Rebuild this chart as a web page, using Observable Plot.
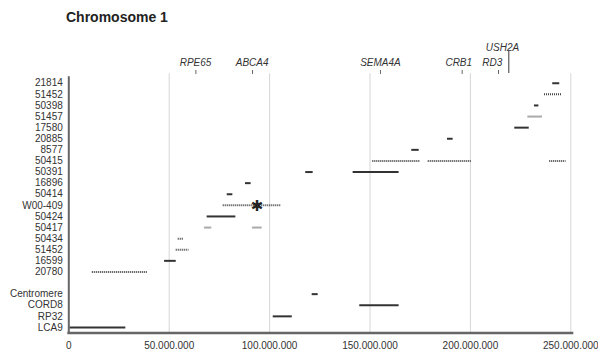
<!DOCTYPE html>
<html>
<head>
<meta charset="utf-8">
<script src="https://cdn.jsdelivr.net/npm/d3@7"></script>
<script src="https://cdn.jsdelivr.net/npm/@observablehq/plot@0.6"></script>
<style>
  html, body { margin: 0; padding: 0; background: #fff; }
  #title { font: bold 14px "Liberation Sans", Arial, sans-serif; height: 34px; line-height: 34px; padding-left: 66px; color: #222; }
  #chart svg { display: block; }
</style>
</head>
<body>
<div id="title">Chromosome 1</div>
<div id="chart"></div>
<script>
// Row labels, top to bottom ("" = empty spacer row)
const rows = ["21814","51452","50398","51457","17580","20885","8577","50415","50391","16896","50414","W00-409","50424","50417","50434","51452","16599","20780","","Centromere","CORD8","RP32","LCA9"];

// Segments (positions in Mb on chromosome 1)
const segRow   = [0, 1, 2, 3, 4, 5, 6, 7, 7, 7, 8, 8, 9, 10, 11, 12, 13, 13, 14, 15, 16, 17, 19, 20, 21, 22];
const segStart = [241.0, 236.9, 231.9, 228.6, 222.1, 188.6, 170.8, 151.4, 179.0, 239.5, 118.0, 141.6, 88.0, 78.9, 76.9, 68.9, 67.6, 91.5, 54.5, 53.5, 47.7, 11.7, 121.2, 144.9, 101.8, 0.5];
const segEnd   = [244.5, 245.7, 234.1, 235.9, 229.3, 191.4, 174.5, 174.8, 200.4, 247.7, 121.7, 164.5, 90.8, 81.7, 105.9, 83.2, 71.2, 96.3, 57.3, 59.8, 53.5, 39.5, 124.2, 164.5, 111.3, 28.4];
const segKind  = ["solid","dotted","solid","gray","solid","solid","solid","dotted","dotted","dotted","solid","solid","solid","solid","dotted","solid","gray","gray","dotted","dotted","solid","dotted","solid","solid","solid","solid"];

// Asterisk marker
const starRow = [11];
const starPos = [93.8];

// Gene annotations along the top
const genes    = ["RPE65","ABCA4","SEMA4A","CRB1","RD3","USH2A"];
const genePos  = [63.3, 91.5, 155.2, 195.9, 214.0, 219.1];
const geneLabelPos = [63.1, 91.3, 155.2, 194.2, 210.9, 216.0];
const geneLong = [false, false, false, false, false, true];

// X axis ticks (bp)
const xTicks = [0, 50e6, 100e6, 150e6, 200e6, 250e6];
const gridTicks = [50e6, 100e6, 150e6, 200e6, 250e6];

const MB = 1e6;
const segs = segRow.map((r, i) => ({row: r, start: segStart[i] * MB, end: segEnd[i] * MB, kind: segKind[i]}));
const stars = starRow.map((r, i) => ({row: r, pos: starPos[i] * MB}));
const geneData = genes.map((g, i) => ({gene: g, pos: genePos[i] * MB, lpos: geneLabelPos[i] * MB, long: geneLong[i]}));
const rowTicks = rows.map((r, i) => i).filter(i => rows[i] !== "");
const fmt = d => d3.format(",")(d).replace(/,/g, ".");

const font = "'Liberation Sans', Arial, sans-serif";
const chart = Plot.plot({
  width: 598,
  height: 319,
  marginLeft: 68.3,
  marginRight: 27.7,
  marginTop: 43.2,
  marginBottom: 20.5,
  style: {fontFamily: font, fontSize: "10px", color: "#333", background: "#fff"},
  x: {domain: [0, 250e6], ticks: xTicks, tickFormat: fmt, tickSize: 0, tickPadding: 9, label: null},
  y: {domain: [-0.5, rows.length - 0.5], reverse: true, ticks: rowTicks, tickFormat: i => rows[i], tickSize: 0, tickPadding: 6, label: null},
  marks: [
    Plot.ruleX(gridTicks, {stroke: "#d6d6d6", strokeWidth: 1, insetTop: -4}),
    // gene ticks and labels
    Plot.ruleX(geneData.filter(d => !d.long), {x: "pos", stroke: "#666", strokeWidth: 1, insetTop: -7.2, insetBottom: 258.5}),
    Plot.ruleX(geneData.filter(d => d.long), {x: "pos", stroke: "#666", strokeWidth: 1.3, insetTop: -26.2, insetBottom: 259.5}),
    Plot.text(geneData.filter(d => !d.long), {x: "lpos", text: "gene", frameAnchor: "top", dy: -18.7, fontStyle: "italic", fontSize: 10, fill: "#333"}),
    Plot.text(geneData.filter(d => d.long), {x: "lpos", text: "gene", frameAnchor: "top", dy: -34.2, fontStyle: "italic", fontSize: 10, fill: "#333"}),
    // segments
    Plot.ruleY(segs.filter(d => d.kind === "solid"), {y: "row", x1: "start", x2: "end", stroke: "#333", strokeWidth: 2}),
    Plot.ruleY(segs.filter(d => d.kind === "gray"), {y: "row", x1: "start", x2: "end", stroke: "#aaa", strokeWidth: 2}),
    Plot.ruleY(segs.filter(d => d.kind === "dotted"), {y: "row", x1: "start", x2: "end", stroke: "#444", strokeWidth: 2, strokeDasharray: "1,1"}),
    Plot.text(stars, {x: "pos", y: "row", text: () => "\u2731", fontSize: 15, fill: "#222", fontFamily: "DejaVu Sans", dy: 1}),
    // axis lines
    Plot.ruleX([0], {stroke: "#666", strokeWidth: 2, insetTop: -1}),
    Plot.ruleY([rows.length - 0.5], {stroke: "#666", strokeWidth: 2.5, insetLeft: -1, insetRight: -3})
  ]
});
document.getElementById("chart").appendChild(chart);
</script>
</body>
</html>
